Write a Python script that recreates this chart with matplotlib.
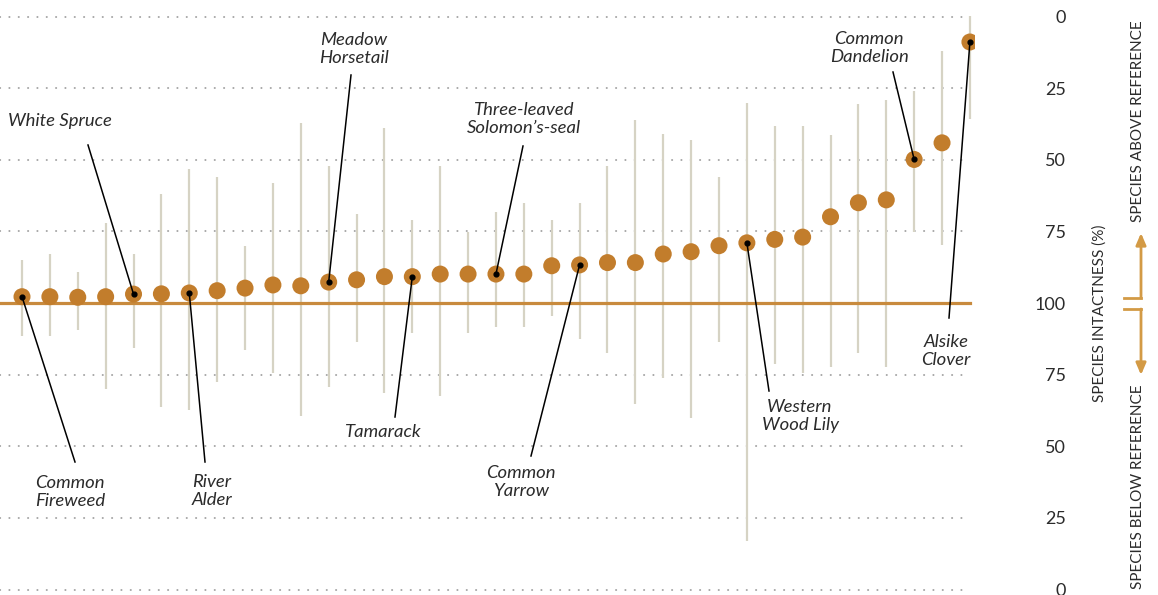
import matplotlib
matplotlib.use("Agg")
import matplotlib.pyplot as plt
import numpy as np
from matplotlib.lines import Line2D

# ======================================================
# DATA  (deviation from reference, in % points; + = above reference)
# ======================================================
deviation = [2.2, 2.2, 2.0, 2.2, 3.1, 3.2, 3.5, 4.3, 5.2, 6.3,
             6.0, 7.3, 8.1, 9.2, 9.2, 10.1, 10.1, 10.1, 10.1, 13.0,
             13.3, 14.1, 14.1, 17.1, 17.9, 20.0, 21.0, 22.2, 23.0, 30.1,
             35.0, 36.0, 50.1, 55.9, 91.1]

upper = [15.0, 17.1, 10.8, 27.9, 17.1, 38.0, 46.8, 44.0, 19.9, 41.9,
         62.8, 47.8, 31.1, 61.1, 29.0, 47.8, 24.8, 31.8, 34.9, 29.0,
         34.9, 47.8, 63.9, 59.0, 56.9, 44.0, 69.8, 61.8, 61.8, 58.6,
         69.5, 70.9, 74.0, 88.0, 100.2]

lower = [-11.5, -11.5, -9.4, -30.0, -15.7, -36.3, -37.3, -27.6, -16.4, -24.4,
         -39.4, -29.3, -13.6, -31.4, -10.5, -32.5, -10.5, -8.4, -8.4, -4.5,
         -12.6, -17.5, -35.3, -26.2, -40.1, -13.6, -83.1, -21.3, -24.4, -22.3,
         -17.5, -22.3, 24.8, 20.2, 64.2]

tick_values = [100, 75, 50, 25, 0, -25, -50, -75, -100]
tick_labels = ["0", "25", "50", "75", "100", "75", "50", "25", "0"]

labelled_idx = [4, 11, 17, 32, 0, 6, 14, 20, 26, 34]
labelled_names = ["White Spruce", "Meadow\nHorsetail", "Three-leaved\nSolomon’s-seal",
                  "Common\nDandelion", "Common\nFireweed", "River\nAlder", "Tamarack",
                  "Common\nYarrow", "Western\nWood Lily", "Alsike\nClover"]

# ======================================================
# LAYOUT (pixel positions of label centres and leader starts)
# ======================================================
W, H = 1158, 595
label_px = [(60, 121), (354, 49), (524, 119), (869, 48), (70, 492),
            (212, 491), (383, 432), (521, 482), (800, 416), (946, 351)]
leader_px = [(88, 145), (351, 75), (523, 146), (893, 72), (75, 462),
             (205, 462), (395, 417), (531, 456), (769, 391), (949, 318)]

DOT = "#c27d2c"
BAR = "#d6d3c4"
REF = "#c88a3d"
ARROW = "#d39a45"
GRID = "#a3a3a3"
TXT = "#2b2b2b"

plt.rcParams["font.family"] = ["Lato", "DejaVu Sans"]

X0_PX, DX_PX = 22, 27.88
Y0_PX, DY_PX = 303, 2.865


def px2data(px, py):
    return (px - X0_PX) / DX_PX, (Y0_PX - py) / DY_PX


fig = plt.figure(figsize=(W / 100, H / 100), dpi=100)
ax = fig.add_axes([0, 0, 975 / W, 1])

x = np.arange(len(deviation))
ax.set_xlim(px2data(0, 0)[0], px2data(975, 0)[0])
ax.set_ylim(px2data(0, 595)[1], px2data(0, 0)[1])

# dotted grid lines (no line at the reference)
for v in tick_values:
    if v == 0:
        continue
    ax.plot([ax.get_xlim()[0], x[-1]], [v, v], color=GRID, lw=1.4,
            linestyle=(0, (0.1, 4.7)), dash_capstyle="round", zorder=1)

# ranges
ax.vlines(x, lower, upper, color=BAR, lw=1.6, zorder=2)

# reference line
ax.plot([ax.get_xlim()[0], x[-1]], [0, 0], color=REF, lw=2.3, zorder=3)

# points
ax.scatter(x, deviation, s=150, color=DOT, edgecolors="none", zorder=4)

# annotations
for i, name, (tx, ty), (lx, ly) in zip(labelled_idx, labelled_names, label_px, leader_px):
    tdx, tdy = px2data(tx, ty)
    ldx, ldy = px2data(lx, ly)
    ax.text(tdx, tdy, name, ha="center", va="center", fontsize=13.3,
            style="italic", color=TXT, linespacing=1.22, zorder=6)
    ax.plot([ldx, x[i]], [ldy, deviation[i]], color="black", lw=1.1, zorder=5)
    ax.scatter([x[i]], [deviation[i]], s=12, color="black", zorder=6)

# right-hand axis labels
ax.set_yticks(tick_values)
ax.set_yticklabels(tick_labels)
ax.set_xticks([])
ax.tick_params(axis="y", left=False, right=False, labelleft=False,
               labelright=True, length=0, pad=65.5, labelsize=13, labelcolor=TXT)
for lbl in ax.get_yticklabels():
    lbl.set_horizontalalignment("right")
for s in ax.spines.values():
    s.set_visible(False)

side_font = dict(rotation=90, ha="center", va="center", fontsize=11, color=TXT)
fig.text(1100 / W, 1 - 313 / H, "SPECIES INTACTNESS (%)", **side_font)
fig.text(1138 / W, 1 - 121 / H, "SPECIES ABOVE REFERENCE", **side_font)
fig.text(1138 / W, 1 - 487 / H, "SPECIES BELOW REFERENCE", **side_font)

# bracket arrows
for y_h, y_tip in [(298, 233), (309, 375)]:
    fig.add_artist(Line2D([1124 / W, 1141 / W], [1 - y_h / H, 1 - y_h / H],
                          transform=fig.transFigure, color=ARROW, lw=2))
    ax.annotate("", xy=(1141, H - y_tip), xytext=(1141, H - y_h),
                xycoords="figure pixels", textcoords="figure pixels",
                arrowprops=dict(arrowstyle="-|>,head_length=0.7,head_width=0.3",
                                color=ARROW, lw=2, shrinkA=0, shrinkB=0))

fig.savefig("out.png", dpi=100)
plt.close(fig)
